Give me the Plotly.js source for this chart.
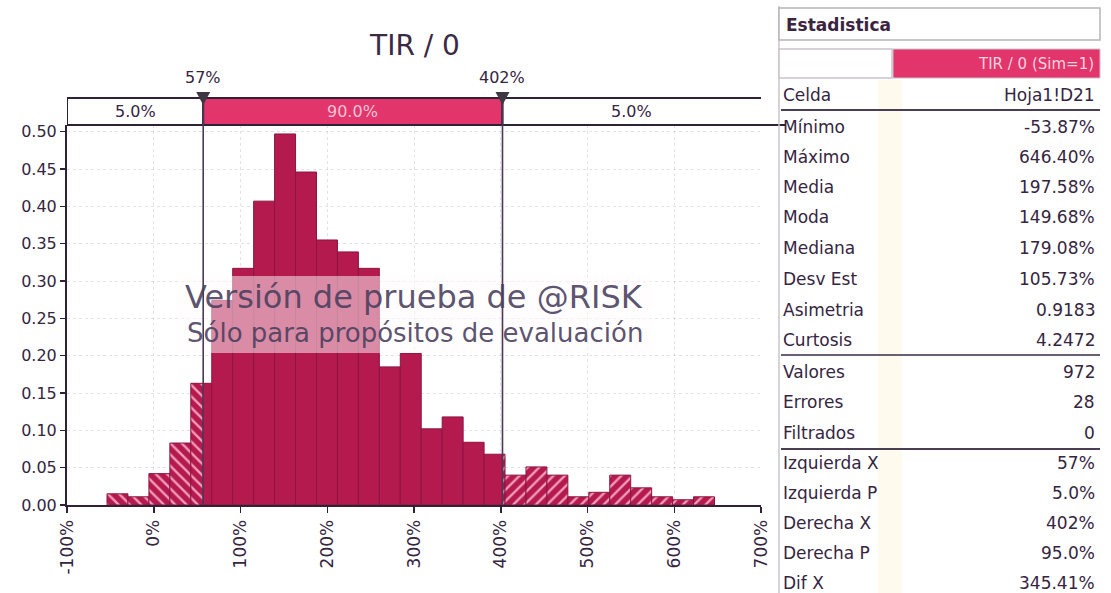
<!DOCTYPE html>
<html>
<head>
<meta charset="utf-8">
<script src="https://cdn.plot.ly/plotly-3.0.1.min.js"></script>
<style>html,body{margin:0;padding:0;background:#fff;}#chart{width:1111px;height:593px;}</style>
</head>
<body>
<div id="chart"></div>
<script>
// ---- data ----
const chartTitle = 'TIR / 0';
const xMin = -53.87;           // Mínimo (%)
const xMax = 646.40;           // Máximo (%)
const density = [0.015, 0.011, 0.042, 0.083, 0.163, 0.274, 0.317, 0.407, 0.497, 0.446,
                 0.355, 0.339, 0.317, 0.185, 0.203, 0.102, 0.118, 0.084, 0.068, 0.040,
                 0.051, 0.040, 0.011, 0.017, 0.040, 0.023, 0.011, 0.007, 0.011];
const leftX = 57, rightX = 402;
const bandTexts = ['5.0%', '90.0%', '5.0%'];
const cutLabels = ['57%', '402%'];
const xTickVals = [-100, 0, 100, 200, 300, 400, 500, 600, 700];
const xTickText = ['-100%', '0%', '100%', '200%', '300%', '400%', '500%', '600%', '700%'];
const yTickVals = [0, 0.05, 0.10, 0.15, 0.20, 0.25, 0.30, 0.35, 0.40, 0.45, 0.50];
const statHeader = 'Estadistica';
const seriesName = 'TIR / 0 (Sim=1)';
const statLabels = ['Celda', 'Mínimo', 'Máximo', 'Media', 'Moda', 'Mediana', 'Desv Est', 'Asimetria', 'Curtosis',
                    'Valores', 'Errores', 'Filtrados', 'Izquierda X', 'Izquierda P', 'Derecha X', 'Derecha P', 'Dif X'];
const statValues = ['Hoja1!D21', '-53.87%', '646.40%', '197.58%', '149.68%', '179.08%', '105.73%', '0.9183', '4.2472',
                    '972', '28', '0', '57%', '5.0%', '402%', '95.0%', '345.41%'];
const watermark = ['Versión de prueba de @RISK', 'Sólo para propósitos de evaluación'];

// ---- layout helpers (pixel geometry of the figure) ----
const W = 1111, H = 593, L = 67, R = 761, T = 125, B = 505;
const px = v => (v - L) / (R - L);     // pixel x -> paper x
const py = v => (B - v) / (B - T);     // pixel y -> paper y
const textCol = '#35253f';
const axisCol = '#2f2236';
const barCol = '#b41a4d';
const hatchCol = '#f49bba';
const bandPink = '#e1356b';
const FONT = 'DejaVu Sans';

// ---- build bar segments from bins ----
const nBins = density.length;
const bw = (xMax - xMin) / nBins;
const seg = {left: {x: [], w: [], y: []}, mid: {x: [], w: [], y: []}, right: {x: [], w: [], y: []}};
function addSeg(s, a, b, d) { if (b - a > 1e-9) { s.x.push((a + b) / 2); s.w.push(b - a); s.y.push(d); } }
for (let i = 0; i < nBins; i++) {
  const lo = xMin + i * bw, hi = lo + bw, d = density[i];
  addSeg(seg.left, lo, Math.min(hi, leftX), d);
  addSeg(seg.mid, Math.max(lo, leftX), Math.min(hi, rightX), d);
  addSeg(seg.right, Math.max(lo, rightX), hi, d);
}
const lineStyle = {width: 1, color: '#8a1540'};
const traces = [
  {type: 'bar', x: seg.left.x, width: seg.left.w, y: seg.left.y, hoverinfo: 'skip',
   marker: {color: barCol, line: lineStyle, pattern: {shape: '\\', fillmode: 'replace', bgcolor: barCol, fgcolor: hatchCol, size: 8, solidity: 0.3}}},
  {type: 'bar', x: seg.mid.x, width: seg.mid.w, y: seg.mid.y, hoverinfo: 'skip',
   marker: {color: barCol, line: lineStyle}},
  {type: 'bar', x: seg.right.x, width: seg.right.w, y: seg.right.y, hoverinfo: 'skip',
   marker: {color: barCol, line: lineStyle, pattern: {shape: '/', fillmode: 'replace', bgcolor: barCol, fgcolor: hatchCol, size: 8, solidity: 0.3}}}
];

// ---- shapes ----
const bandTop = py(98), bandBot = 1.0;
const shapes = [
  // watermark box (translucent white)
  {type: 'rect', layer: 'above', xref: 'paper', yref: 'paper', x0: px(178), x1: px(652), y0: py(353), y1: py(276),
   fillcolor: 'rgba(255,252,254,0.5)', line: {width: 0}},
  // band sections
  {type: 'rect', xref: 'x', yref: 'paper', x0: -100, x1: leftX, y0: bandBot, y1: bandTop, fillcolor: '#ffffff', line: {color: axisCol, width: 2}},
  {type: 'rect', xref: 'x', yref: 'paper', x0: leftX, x1: rightX, y0: bandBot, y1: bandTop, fillcolor: bandPink, line: {color: axisCol, width: 2}},
  {type: 'rect', xref: 'x', yref: 'paper', x0: rightX, x1: 702, y0: bandBot, y1: bandTop, fillcolor: '#ffffff', line: {color: axisCol, width: 2}},
  {type: 'line', xref: 'paper', yref: 'paper', x0: px(761), x1: px(786), y0: bandBot, y1: bandBot, line: {color: axisCol, width: 2}},
  // cut lines
  {type: 'line', layer: 'above', xref: 'x', yref: 'paper', x0: leftX, x1: leftX, y0: 0, y1: bandTop, line: {color: '#4a3a55', width: 1.6}},
  {type: 'line', layer: 'above', xref: 'x', yref: 'paper', x0: rightX, x1: rightX, y0: 0, y1: bandTop, line: {color: '#4a3a55', width: 1.6}},
  // triangles
  {type: 'path', xref: 'x', yref: 'paper', xsizemode: 'pixel', ysizemode: 'pixel', xanchor: leftX, yanchor: bandTop,
   path: 'M -7 6 L 7 6 L 0 -7 Z', fillcolor: '#3e3842', line: {width: 0}},
  {type: 'path', xref: 'x', yref: 'paper', xsizemode: 'pixel', ysizemode: 'pixel', xanchor: rightX, yanchor: bandTop,
   path: 'M -7 6 L 7 6 L 0 -7 Z', fillcolor: '#3e3842', line: {width: 0}},
  // table: cream strip & left border
  {type: 'rect', xref: 'paper', yref: 'paper', x0: px(878), x1: px(902), y0: py(593), y1: py(80), fillcolor: 'rgba(252,244,215,0.45)', line: {width: 0}},
  {type: 'line', xref: 'paper', yref: 'paper', x0: px(779), x1: px(779), y0: py(593), y1: py(6), line: {color: '#c9c4cc', width: 1.5}},
  // header boxes
  {type: 'rect', xref: 'paper', yref: 'paper', x0: px(779), x1: px(1100), y0: py(40), y1: py(8), fillcolor: '#ffffff', line: {color: '#b8b2bb', width: 1.5}},
  {type: 'rect', xref: 'paper', yref: 'paper', x0: px(779), x1: px(892), y0: py(78), y1: py(49), fillcolor: '#ffffff', line: {color: '#c9c4cc', width: 1.5}},
  {type: 'rect', xref: 'paper', yref: 'paper', x0: px(893), x1: px(1100), y0: py(78), y1: py(49), fillcolor: bandPink, line: {color: '#c9c4cc', width: 1}},
  // separators
  {type: 'line', xref: 'paper', yref: 'paper', x0: px(781), x1: px(1100), y0: py(110), y1: py(110), line: {color: '#4a3e52', width: 2}},
  {type: 'line', xref: 'paper', yref: 'paper', x0: px(781), x1: px(1100), y0: py(355), y1: py(355), line: {color: '#6a5e72', width: 2}},
  {type: 'line', xref: 'paper', yref: 'paper', x0: px(781), x1: px(1100), y0: py(449), y1: py(449), line: {color: '#4a3e52', width: 2}}
];

// ---- annotations ----
const ann = [];
function txt(xref, x, y, text, size, color, xanchor) {
  ann.push({xref: xref, yref: 'paper', x: x, y: y, text: text, showarrow: false,
            xanchor: xanchor || 'center', yanchor: 'middle', font: {family: FONT, size: size, color: color}});
}
// band labels
txt('x', (-100 + leftX) / 2, py(111), bandTexts[0], 16, textCol);
txt('x', (leftX + rightX) / 2, py(111), bandTexts[1], 16, '#f8c3d4');
txt('x', (rightX + 700) / 2, py(111), bandTexts[2], 16, textCol);
txt('x', leftX, py(77), cutLabels[0], 16, textCol);
txt('x', rightX, py(77), cutLabels[1], 16, textCol);
// watermark
txt('paper', px(414), py(297), watermark[0], 32, 'rgba(72,62,92,0.9)');
txt('paper', px(415), py(333), watermark[1], 26, 'rgba(72,62,92,0.9)');
// table
txt('paper', px(784), py(25), '<b>' + statHeader + '</b>', 17, '#3a2440', 'left');
txt('paper', px(1096), py(64), seriesName, 15, '#fbd3df', 'right');
const rowY = [95, 127, 157, 187, 217, 248, 279, 310, 340, 372, 402, 433, 463, 493, 523, 553, 583];
statLabels.forEach((lab, i) => {
  txt('paper', px(781), py(rowY[i]), lab, 17, textCol, 'left');
  txt('paper', px(1097), py(rowY[i]), statValues[i], 17, textCol, 'right');
});

const layout = {
  width: W, height: H,
  margin: {l: L, r: W - R, t: T, b: H - B, pad: 0},
  paper_bgcolor: '#ffffff', plot_bgcolor: '#ffffff',
  showlegend: false, barmode: 'overlay', bargap: 0,
  title: {text: chartTitle, xref: 'container', yref: 'container', x: 415 / W, xanchor: 'center', y: 1 - 45 / H, yanchor: 'middle',
          font: {family: FONT, size: 28, color: '#3b2a45'}},
  xaxis: {range: [-100, 700], tickvals: xTickVals, ticktext: xTickText, tickangle: -90,
          ticks: 'outside', ticklen: 6, tickwidth: 1.5, tickcolor: axisCol,
          showline: true, linecolor: axisCol, linewidth: 2, zeroline: false,
          showgrid: true, gridcolor: 'rgba(190,180,195,0.4)', griddash: 'dot', gridwidth: 1,
          tickfont: {family: FONT, size: 17, color: textCol}, fixedrange: true},
  yaxis: {range: [0, 0.509], tickvals: yTickVals, tickformat: '.2f',
          ticks: 'outside', ticklen: 5, tickwidth: 1.5, tickcolor: axisCol,
          showline: true, linecolor: axisCol, linewidth: 2, zeroline: false,
          showgrid: true, gridcolor: 'rgba(190,180,195,0.4)', griddash: 'dot', gridwidth: 1,
          tickfont: {family: FONT, size: 16, color: textCol}, fixedrange: true},
  shapes: shapes,
  annotations: ann
};

Plotly.newPlot('chart', traces, layout, {displayModeBar: false, staticPlot: true});
</script>
</body>
</html>
